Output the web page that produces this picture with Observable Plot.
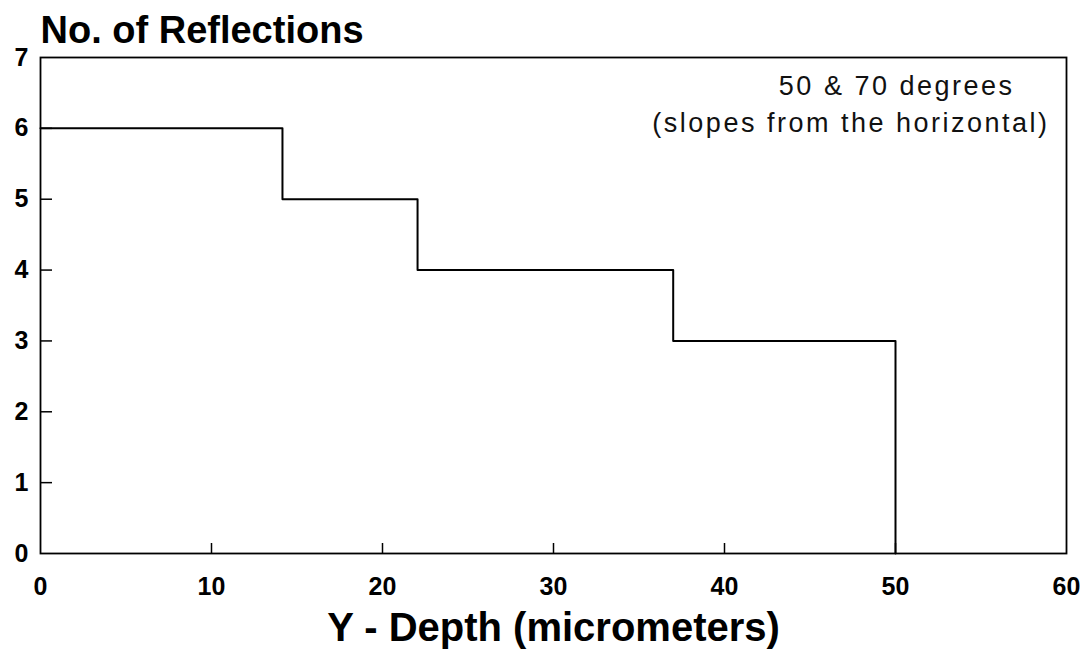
<!DOCTYPE html>
<html><head><meta charset="utf-8">
<script src="https://cdn.jsdelivr.net/npm/d3@7"></script>
<script src="https://cdn.jsdelivr.net/npm/@observablehq/plot@0.6"></script>
<style>
body{margin:0;background:#fff;}
svg{font-family:"Liberation Sans",Arial,sans-serif;}
</style></head>
<body><div id="chart"></div>
<script>
const depth = [0, 14.15, 22.05, 37.0, 50.0];
const reflections = [6, 5, 4, 3, 0];
const xTicks = [0, 10, 20, 30, 40, 50, 60];
const yTicks = [0, 1, 2, 3, 4, 5, 6, 7];
const titleText = "No. of Reflections";
const xLabel = "Y - Depth (micrometers)";
const noteLines = ["50 & 70 degrees", "(slopes from the horizontal)"];

const data = depth.map((d, i) => ({x: d, y: reflections[i]}));

const W = 1089, H = 650, mL = 40, mR = 23, mT = 57, mB = 97;
const frameW = W - mL - mR, frameH = H - mT - mB;

const plot = Plot.plot({
  width: W, height: H,
  marginLeft: mL, marginRight: mR, marginTop: mT, marginBottom: mB,
  style: {fontFamily: '"Liberation Sans", Arial, sans-serif', background: "#fff", color: "#000"},
  x: {domain: [0, 60]},
  y: {domain: [0, 7]},
  marks: [
    Plot.frame({stroke: "#000", strokeWidth: 1.8}),
    Plot.tickX(xTicks.slice(1, -1), {x: d => d, insetTop: frameH - 10, stroke: "#000", strokeWidth: 1.5}),
    Plot.tickY(yTicks.slice(1, -1), {y: d => d, insetRight: frameW - 12, stroke: "#000", strokeWidth: 1.5}),
    Plot.axisX({ticks: xTicks, tickSize: 0, tickPadding: 24, fontSize: 25, fontWeight: "bold", label: null, lineAnchor: "top", tickFormat: d3.format("d")}),
    Plot.axisY({ticks: yTicks, tickSize: 0, tickPadding: 12, fontSize: 25, fontWeight: "bold", label: null, tickFormat: d3.format("d")}),
    Plot.line(data, {x: "x", y: "y", curve: "step-after", stroke: "#000", strokeWidth: 2}),
    Plot.text([titleText], {text: d => d, frameAnchor: "top-left", textAnchor: "start", lineAnchor: "bottom", dy: -15, fontSize: 38, fontWeight: "bold"}),
    Plot.text([xLabel], {text: d => d, frameAnchor: "bottom", textAnchor: "middle", lineAnchor: "bottom", dy: 87, fontSize: 40, fontWeight: "bold"}),
    Plot.text([noteLines[0]], {text: d => d, frameAnchor: "top-right", textAnchor: "end", lineAnchor: "bottom", dx: -52, dy: 37, fontSize: 27, fill: "#111"}),
    Plot.text([noteLines[1]], {text: d => d, frameAnchor: "top-right", textAnchor: "end", lineAnchor: "bottom", dx: -17, dy: 74, fontSize: 27, fill: "#111"})
  ]
});
d3.select(plot).selectAll("text")
  .filter(function() { return noteLines.includes(this.textContent); })
  .style("letter-spacing", "2.5px");
document.getElementById("chart").appendChild(plot);
</script></body></html>
